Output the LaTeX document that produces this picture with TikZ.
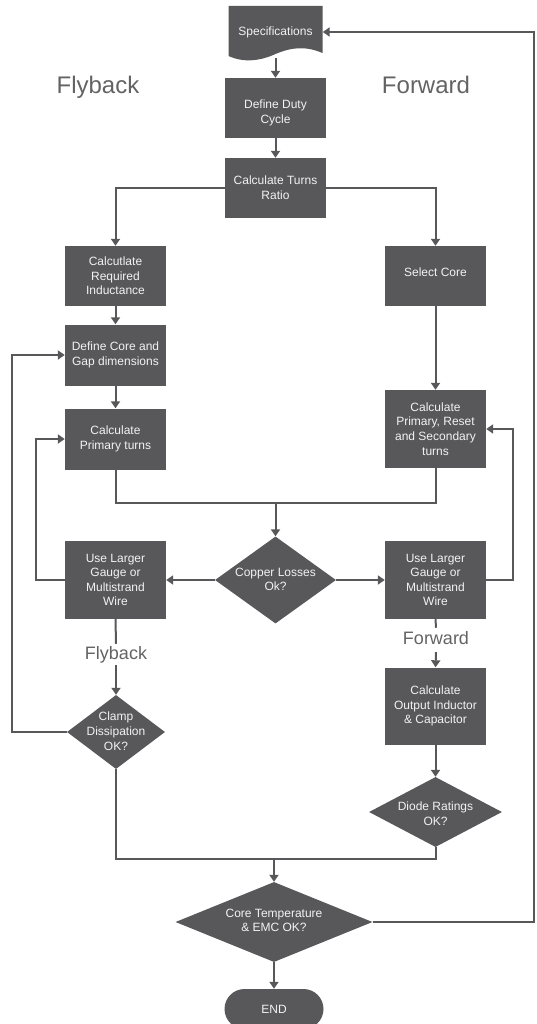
\documentclass[tikz,border=0pt]{standalone}
\usepackage{fontspec}
\setmainfont{Liberation Sans}
\usetikzlibrary{shapes.geometric,arrows.meta}
\definecolor{boxfill}{HTML}{58585A}
\definecolor{linec}{HTML}{58585A}
\definecolor{labelc}{HTML}{636363}
\definecolor{txtc}{HTML}{F2F2F2}
\newcommand{\dtext}[2][-5pt]{\raisebox{#1}{\smash{\makebox[0pt]{\begin{tabular}{@{}c@{}}#2\end{tabular}}}}}
\begin{document}
\begin{tikzpicture}[x=1pt,y=-1pt,
  stepbox/.style={fill=boxfill, text=txtc, font=\fontsize{12}{14.6}\selectfont, align=center,
     minimum width=101pt, inner sep=0pt},
  decision/.style={diamond, fill=boxfill, text=txtc, font=\fontsize{12}{14.6}\selectfont,
     inner sep=0pt},
  conn/.style={draw=linec, line width=2pt},
  arr/.style={conn, -{Triangle[length=7pt,width=9pt]}},
  midlab/.style={text=labelc, font=\fontsize{18}{20}\selectfont, inner sep=2pt, anchor=base},
  biglab/.style={text=labelc, font=\fontsize{24}{26}\selectfont, inner sep=0pt, anchor=base}]
\useasboundingbox (0,0) rectangle (537,1024);

% Specifications (document shape)
\fill[boxfill] (228.5,6) -- (322.5,6) -- (322.5,53)
   .. controls (306,46) and (292,47) .. (275.5,54)
   .. controls (260,61) and (244,63) .. (228.5,56) -- cycle;
\node[text=txtc, font=\fontsize{12}{14.6}\selectfont, minimum width=94pt, minimum height=51pt, inner sep=0pt] (spec) at (275.5,32) {Specifications};

\node[biglab] (flyT) at (98,94) {Flyback};
\node[biglab] (fwdT) at (426,94) {Forward};

\node[stepbox, minimum height=60pt] (duty) at (275.5,108) {\rule{0pt}{18pt}Define Duty\\Cycle};
\node[stepbox, minimum height=60pt] (turns) at (275.5,188) {Calculate Turns\\Ratio};
\node[stepbox, minimum height=60pt] (calcL) at (115.5,276) {Calcutlate\\Required\\Inductance};
\node[stepbox, minimum height=60pt, text depth=8pt] (selcore) at (435.5,276) {Select Core};
\node[stepbox, minimum height=61pt] (defcore) at (115.5,355) {Define Core and\\Gap dimensions};
\node[stepbox, minimum height=61pt] (prim) at (115.5,439) {Calculate\\Primary turns};
\node[stepbox, minimum height=78pt] (prs) at (435.5,429) {Calculate\\Primary, Reset\\and Secondary\\turns};

\node[decision, minimum width=121pt, minimum height=87pt] (copper) at (275.5,580) {\dtext[-7pt]{Copper Losses\\Ok?}};
\node[stepbox, minimum height=78pt] (useL) at (115.5,580) {Use Larger\\Gauge or\\Multistrand\\Wire};
\node[stepbox, minimum height=78pt] (useR) at (435.5,580) {Use Larger\\Gauge or\\Multistrand\\Wire};

\node[midlab] (flyM) at (116,659) {Flyback};
\node[midlab, text depth=5pt, inner ysep=3pt] (fwdM) at (436,644) {Forward};

\node[decision, minimum width=98pt, minimum height=74pt] (clamp) at (116,732) {\dtext[-7pt]{Clamp\\Dissipation\\OK?}};
\node[stepbox, minimum height=77pt] (outp) at (435.5,706) {Calculate\\Output Inductor\\\& Capacitor};
\node[decision, minimum width=133pt, minimum height=70pt] (diode) at (435.5,812) {\dtext[-12pt]{Diode Ratings\\OK?}};
\node[decision, minimum width=197pt, minimum height=80pt] (core) at (274,922) {\dtext[-5pt]{Core Temperature\\\& EMC OK?}};
\node[stepbox, minimum width=99pt, minimum height=40pt, rounded corners=20pt] (endn) at (274,1009) {END};

\coordinate (m1) at (275.5,503);
\coordinate (m2) at (274,859);
\coordinate (rc) at (534,0);

% connectors
\draw[arr] (spec.south) -- (duty.north);
\draw[arr] (duty) -- (turns);
\draw[arr] (turns.west) -| (calcL.north);
\draw[arr] (turns.east) -| (selcore.north);
\draw[arr] (calcL) -- (defcore);
\draw[arr] (defcore) -- (prim);
\draw[arr] (selcore) -- (prs);
\draw[conn] (prim.south) |- (m1) -| (prs.south);
\draw[arr] (m1) -- (copper.north);
\draw[arr] (copper.west) -- (useL.east);
\draw[arr] (copper.east) -- (useR.west);
\draw[arr] (useL.west) -- ++(-29,0) |- (prim.west);
\draw[arr] (useR.east) -- ++(27,0) |- (prs.east);
\draw[conn] (useL.south) -- (flyM.north);
\draw[arr] (flyM.south) -- (clamp.north);
\draw[conn] (useR.south) -- (fwdM.north);
\draw[arr] (fwdM.south) -- (outp.north);
\draw[arr] (clamp.west) -- ++(-55,0) |- (defcore.west);
\draw[arr] (outp) -- (diode);
\draw[conn] (clamp.south) |- (m2);
\draw[conn] (diode.south) |- (m2);
\draw[arr] (m2) -- (core.north);
\draw[arr] (core.east) -| (rc |- spec.east) -- (spec.east);
\draw[arr] (core.south) -- (endn.north);
\end{tikzpicture}
\end{document}
